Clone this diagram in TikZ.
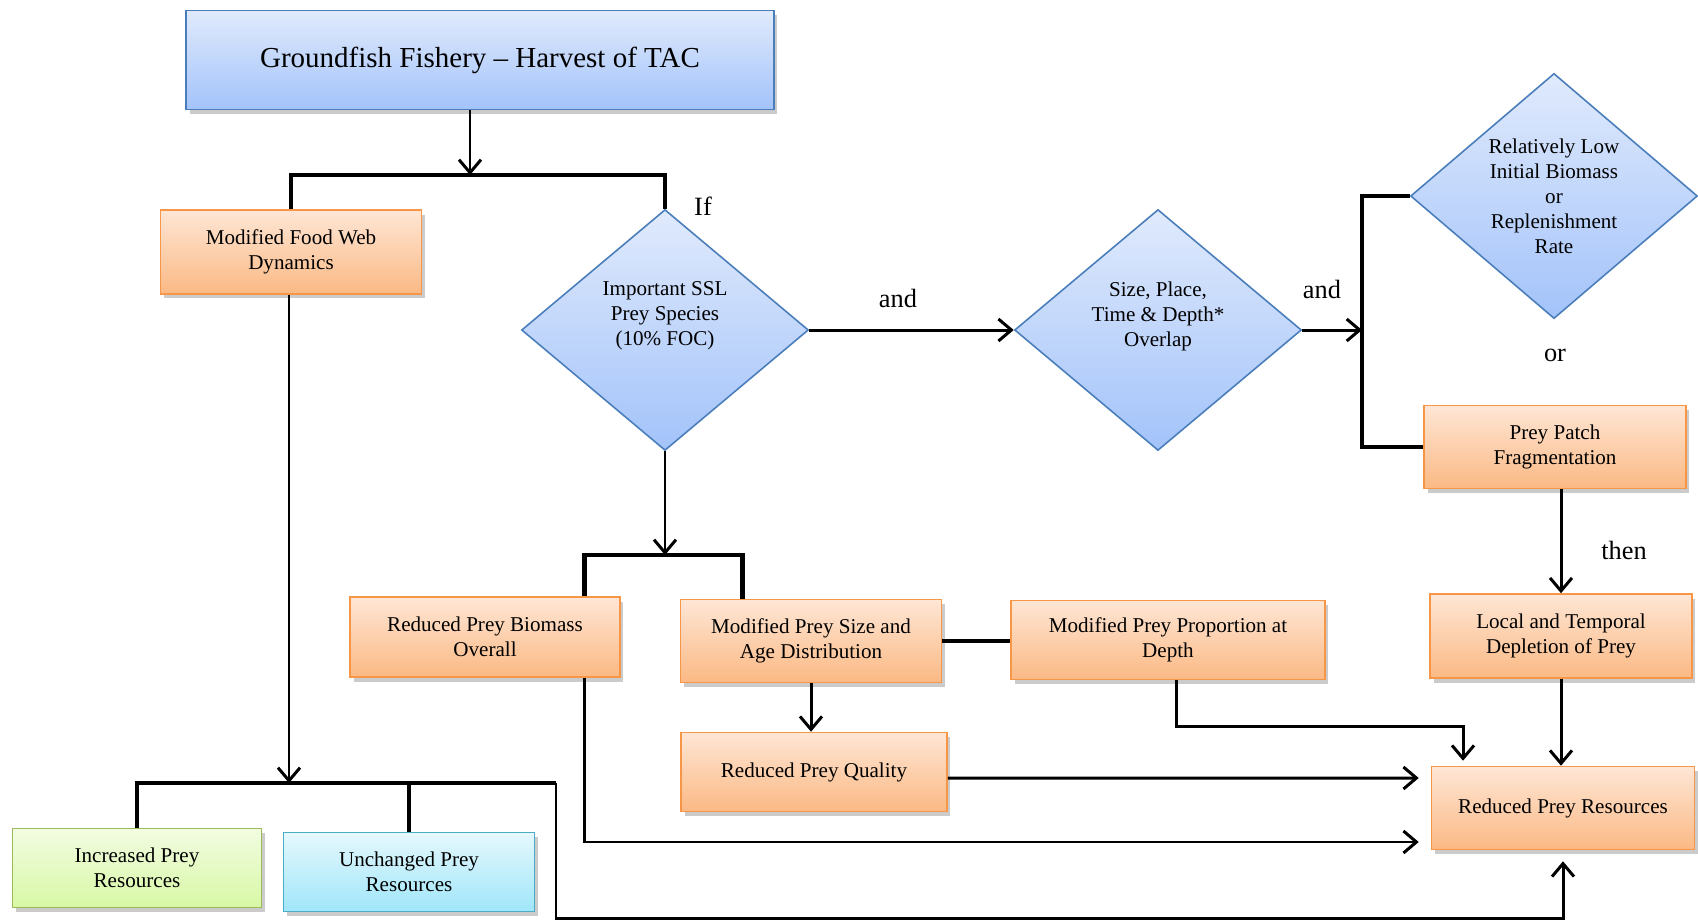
\documentclass[tikz,border=0pt]{standalone}
\usepackage{fontspec}
\setmainfont{Liberation Serif}
\usetikzlibrary{arrows.meta,shapes.geometric,shadows}

\definecolor{bluetop}{HTML}{E0EAFC}
\definecolor{bluebot}{HTML}{A3C3FA}
\definecolor{blueline}{HTML}{4A7EBB}
\definecolor{orangetop}{HTML}{FEE6D5}
\definecolor{orangebot}{HTML}{FBB984}
\definecolor{orangeline}{HTML}{F79646}
\definecolor{greentop}{HTML}{F2FCE2}
\definecolor{greenbot}{HTML}{D8F8A5}
\definecolor{greenline}{HTML}{9BBB59}
\definecolor{cyantop}{HTML}{E5F8FD}
\definecolor{cyanbot}{HTML}{A0E6FA}
\definecolor{cyanline}{HTML}{4BACC6}

\begin{document}
\begin{tikzpicture}[
  x=0.02cm, y=-0.02cm,
  font=\fontsize{12}{14.2}\selectfont,
  shade/.style={drop shadow={shadow xshift=0.07cm, shadow yshift=-0.09cm, fill=black!45, opacity=0.45}},
  orangebox/.style={draw=orangeline, line width=0.9pt, top color=orangetop, bottom color=orangebot, align=center, inner sep=0pt, shade},
  bluebox/.style={draw=blueline, line width=0.9pt, top color=bluetop, bottom color=bluebot, align=center, inner sep=0pt, shade},
  greenbox/.style={draw=greenline, line width=0.9pt, top color=greentop, bottom color=greenbot, align=center, inner sep=0pt, shade},
  cyanbox/.style={draw=cyanline, line width=0.9pt, top color=cyantop, bottom color=cyanbot, align=center, inner sep=0pt, shade},
  decision/.style={diamond, draw=blueline, line width=0.9pt, top color=bluetop, bottom color=bluebot, align=center, inner sep=0pt, minimum width=5.74cm, minimum height=4.82cm},
  arrow/.style={-{Straight Barb[length=2.6mm, width=4.4mm]}, line width=1.7pt},
  bar/.style={line width=2.6pt},
  word/.style={font=\fontsize{15}{18}\selectfont}
]
\useasboundingbox (0,0) rectangle (1698,920);

% boxes and decisions
\node[bluebox, minimum width=11.76cm, minimum height=1.98cm, font=\fontsize{16.5}{20}\selectfont] (top) at (480,60) {Groundfish Fishery -- Harvest of TAC};
\node[orangebox, minimum width=5.22cm, minimum height=1.68cm] (mfwd) at (291,252) {Modified Food Web\\Dynamics};
\node[decision] (ssl) at (665,330) {Important SSL\\Prey Species\\(10\% FOC)\\\strut};
\node[decision] (overlap) at (1158,330) {Size, Place,\\Time \& Depth*\\Overlap\\\strut};
\node[decision] (lowbio) at (1554,196) {Relatively Low\\Initial Biomass\\or\\Replenishment\\Rate};
\node[orangebox, minimum width=5.24cm, minimum height=1.66cm] (patch) at (1555,447) {Prey Patch\\Fragmentation};
\node[orangebox, minimum width=5.24cm, minimum height=1.68cm] (local) at (1561,636) {Local and Temporal\\Depletion of Prey};
\node[orangebox, minimum width=5.26cm, minimum height=1.66cm] (rpr) at (1563,808) {Reduced Prey Resources};
\node[orangebox, minimum width=6.28cm, minimum height=1.58cm] (mppd) at (1168,640) {Modified Prey Proportion at\\Depth};
\node[orangebox, minimum width=5.22cm, minimum height=1.66cm] (mpsad) at (811,641) {Modified Prey Size and\\Age Distribution};
\node[orangebox, minimum width=5.32cm, minimum height=1.58cm] (rpq) at (814,772) {Reduced Prey Quality};
\node[orangebox, minimum width=5.40cm, minimum height=1.60cm] (rpbo) at (485,637) {Reduced Prey Biomass\\Overall};
\node[greenbox, minimum width=4.98cm, minimum height=1.58cm] (inc) at (137,868) {Increased Prey\\Resources};
\node[cyanbox, minimum width=5.02cm, minimum height=1.58cm] (unch) at (409,872) {Unchanged Prey\\Resources};

% words on the connectors
\node[word] (wif) at (703,206) {If};
\node[word] (wand1) at (898,298) {and};
\node[word] (wand2) at (1322,289) {and};
\node[word] (wor) at (1555,355) {or};
\node[word] (wthen) at (1624,550) {then};

% fork points
\coordinate (forkA) at (470,175);
\coordinate (forkB) at (665,555);
\coordinate (forkC) at (1362,330);
\coordinate (forkD) at (289,783);
\coordinate (bendF) at (1300,726);
\coordinate (cornerE) at (556,918);

% connectors
\draw[arrow] (top.south -| forkA) -- (forkA);
\draw[bar] (mfwd.north) |- (forkA) -| (ssl.north);
\draw[arrow] (ssl.east) -- (overlap.west);
\draw[arrow] (overlap.east) -- (forkC);
\draw[bar] (lowbio.west) -| (forkC) |- (patch.west);
\draw[arrow] (patch.south -| local.north) -- (local.north);
\draw[arrow] (local.south) -- (local.south |- rpr.north);
\draw[arrow] (ssl.south) -- (forkB);
\draw[bar] ([xshift=-0.72cm]rpbo.north east) |- (forkB) -| ([xshift=1.26cm]mpsad.north west);
\draw[bar] (mpsad.east) -- (mpsad.east -| mppd.west);
\draw[arrow] (mpsad.south) -- (mpsad.south |- rpq.north);
\draw[arrow, shorten >=0.1cm] ([xshift=0.16cm]mppd.south) |- (bendF) -| ([xshift=-2cm]rpr.north);
\draw[arrow, shorten >=0.24cm] ([yshift=-0.12cm]rpq.east) -- ([yshift=0.6cm]rpr.west);
\draw[arrow, shorten >=0.24cm] ([xshift=-0.72cm]rpbo.south east) |- ([yshift=-0.68cm]rpr.west);
\draw[arrow] (mfwd.south -| forkD) -- (forkD);
\draw[bar] (inc.north) |- (forkD) -- (forkD -| cornerE);
\draw[bar] (unch.north) -- (unch.north |- forkD);
\draw[arrow, shorten >=0.22cm] (forkD -| cornerE) -- (cornerE) -| (rpr.south);
\end{tikzpicture}
\end{document}
